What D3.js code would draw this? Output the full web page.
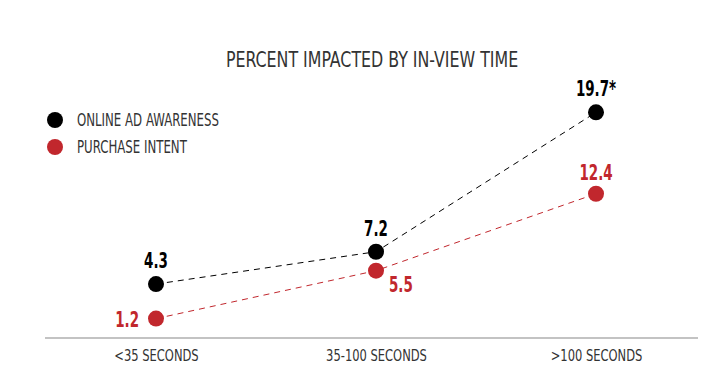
<!DOCTYPE html>
<html>
<head>
<meta charset="utf-8">
<script src="https://cdn.jsdelivr.net/npm/d3@7"></script>
<style>
  body { margin: 0; background: #fff; }
  text { font-family: "DejaVu Sans Condensed", "DejaVu Sans", sans-serif; font-stretch: condensed; }
</style>
</head>
<body>
<div id="chart"></div>
<script>
const width = 728;
const height = 391;

const categories = ['<35 SECONDS', '35-100 SECONDS', '>100 SECONDS'];
const awareness = [4.3, 7.2, 19.7];
const awarenessLabels = ['4.3', '7.2', '19.7*'];
const intent = [1.2, 5.5, 12.4];
const intentLabels = ['1.2', '5.5', '12.4'];
const seriesNames = ['ONLINE AD AWARENESS', 'PURCHASE INTENT'];

const black = '#000';
const red = '#c1272d';

const svg = d3.select('#chart')
  .append('svg')
  .attr('width', width)
  .attr('height', height);

// place a text at (x, y) and squash it horizontally: the source type is much narrower than any installed face
const placeText = (sel, fx, fy, k) => sel
  .attr('transform', (d, i) => 'translate(' + fx(d, i) + ',' + fy(d, i) + ') scale(' + k + ',1)');

/* Scales */
const x = d3.scalePoint()
  .domain(categories)
  .range([156, 596]);

const y = d3.scaleLinear()
  .domain([0, 20])
  .range([332, 109]);

/* Title */
svg.append('text')
  .call(placeText, () => 372, () => 67, 0.8)
  .attr('text-anchor', 'middle')
  .style('font-size', '22px')
  .style('fill', '#333')
  .text('PERCENT IMPACTED BY IN-VIEW TIME');

/* Legend */
const legend = svg.selectAll('.legend')
  .data(seriesNames)
  .enter()
  .append('g')
  .attr('transform', (d, i) => 'translate(55,' + (120 + i * 27) + ')');

legend.append('circle')
  .attr('r', 8)
  .style('fill', (d, i) => i === 0 ? black : red);

legend.append('text')
  .call(placeText, () => 22, () => 6, 0.77)
  .style('font-size', '17px')
  .style('fill', '#333')
  .text(d => d);

/* Axis */
const axis = svg.append('g')
  .attr('transform', 'translate(0,338)')
  .call(d3.axisBottom(x).tickSize(0).tickPadding(12));

axis.select('.domain').remove();
axis.append('line')
  .attr('x1', 45)
  .attr('x2', 698)
  .style('stroke', '#888')
  .style('stroke-width', 1.2);

axis.selectAll('.tick text')
  .attr('transform', 'scale(0.8,1)')
  .style('font-size', '16px')
  .style('fill', '#333')
  .style('font-family', '"DejaVu Sans Condensed", "DejaVu Sans", sans-serif');

/* Lines */
const line = d3.line()
  .x((d, i) => x(categories[i]))
  .y(d => y(d));

[[awareness, black], [intent, red]].forEach(([values, colour]) => {
  svg.append('path')
    .datum(values)
    .attr('d', line)
    .style('fill', 'none')
    .style('stroke', colour)
    .style('stroke-width', 1)
    .style('stroke-dasharray', '6,5');
});

/* Dots */
svg.selectAll('.dot-a')
  .data(awareness)
  .enter()
  .append('circle')
  .attr('cx', (d, i) => x(categories[i]))
  .attr('cy', d => y(d))
  .attr('r', 8)
  .style('fill', black);

svg.selectAll('.dot-i')
  .data(intent)
  .enter()
  .append('circle')
  .attr('cx', (d, i) => x(categories[i]))
  .attr('cy', d => y(d))
  .attr('r', 8)
  .style('fill', red);

/* Value labels */
svg.selectAll('.lab-a')
  .data(awareness)
  .enter()
  .append('text')
  .call(placeText, (d, i) => x(categories[i]), d => y(d) - 16, 0.68)
  .attr('text-anchor', 'middle')
  .style('font-size', '22px')
  .style('font-weight', 'bold')
  .style('fill', black)
  .text((d, i) => awarenessLabels[i]);

// intent labels: left, right-below, above
const intentOffsets = [[-17, 8, 'end'], [13, 21, 'start'], [0, -14, 'middle']];
svg.selectAll('.lab-i')
  .data(intent)
  .enter()
  .append('text')
  .call(placeText, (d, i) => x(categories[i]) + intentOffsets[i][0], (d, i) => y(d) + intentOffsets[i][1], 0.68)
  .attr('text-anchor', (d, i) => intentOffsets[i][2])
  .style('font-size', '22px')
  .style('font-weight', 'bold')
  .style('fill', red)
  .text((d, i) => intentLabels[i]);
</script>
</body>
</html>
